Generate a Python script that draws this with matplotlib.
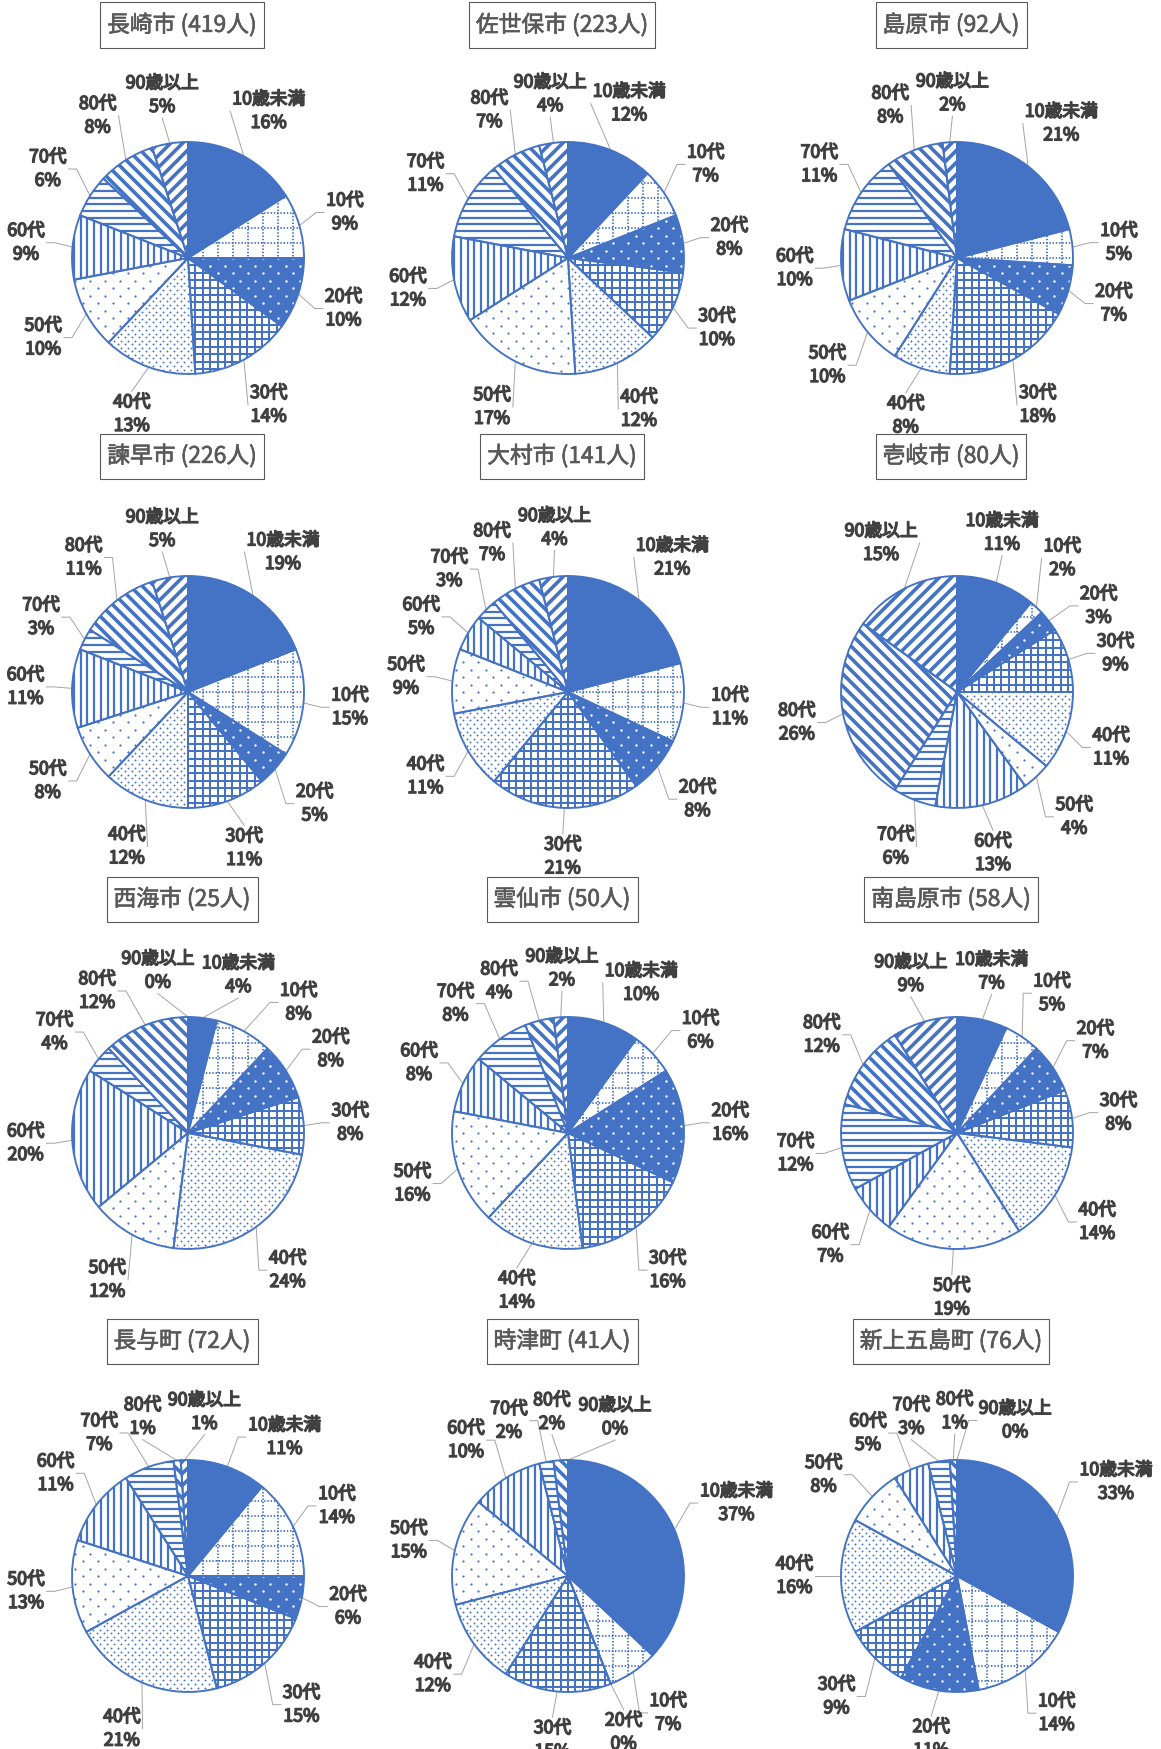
import matplotlib
matplotlib.use('Agg')
import matplotlib.pyplot as plt
import matplotlib.patheffects as pe
from matplotlib.collections import LineCollection
import numpy as np

plt.rcParams['font.family'] = ['Noto Sans CJK JP', 'DejaVu Sans']

W, H, DPI = 1161, 1749, 80

age_groups = ['10歳未満', '10代', '20代', '30代', '40代', '50代', '60代', '70代', '80代', '90歳以上']
areas = ['長崎市', '佐世保市', '島原市', '諫早市', '大村市', '壱岐市',
         '西海市', '雲仙市', '南島原市', '長与町', '時津町', '新上五島町']
people = [419, 223, 92, 226, 141, 80, 25, 50, 58, 72, 41, 76]

# percent by age group (10歳未満 ... 90歳以上)
nagasaki = [16, 9, 10, 14, 13, 10, 9, 6, 8, 5]
sasebo = [12, 7, 8, 10, 12, 17, 12, 11, 7, 4]
shimabara = [21, 5, 7, 18, 8, 10, 10, 11, 8, 2]
isahaya = [19, 15, 5, 11, 12, 8, 11, 3, 11, 5]
omura = [21, 11, 8, 21, 11, 9, 5, 3, 7, 4]
iki = [11, 2, 3, 9, 11, 4, 13, 6, 26, 15]
saikai = [4, 8, 8, 8, 24, 12, 20, 4, 12, 0]
unzen = [10, 6, 16, 16, 14, 16, 8, 8, 4, 2]
minamishimabara = [7, 5, 7, 8, 14, 19, 7, 12, 12, 9]
nagayo = [11, 14, 6, 15, 21, 13, 11, 7, 1, 1]
togitsu = [37, 7, 0, 15, 12, 15, 10, 2, 2, 0]
shinkamigoto = [33, 14, 11, 9, 16, 8, 5, 3, 1, 0]

shares = [nagasaki, sasebo, shimabara, isahaya, omura, iki,
          saikai, unzen, minamishimabara, nagayo, togitsu, shinkamigoto]

BLUE = '#4472C4'
TXT = '#404040'
GREY = '#595959'
# pattern per age group: (face, kind, params)
styles = [
    (BLUE, None, None),
    ('white', 'lines', dict(angles=[0, 90], spacing=15, lw=1.8, ls=(0, (0.8, 1.0)))),
    (BLUE, 'dots', dict(sx=15, sy=7.5, size=2.4, color='white')),
    ('white', 'lines', dict(angles=[0, 90], spacing=7.4, lw=2.0, ls='-')),
    ('white', 'dots', dict(sx=7, sy=3.6, size=1.9, color=BLUE)),
    ('white', 'dots', dict(sx=15, sy=7.5, size=2.2, color=BLUE)),
    ('white', 'lines', dict(angles=[90], spacing=6.7, lw=2.2, ls='-')),
    ('white', 'lines', dict(angles=[0], spacing=6.7, lw=2.2, ls='-')),
    ('white', 'lines', dict(angles=[-45], spacing=8.5, lw=3.6, ls='-')),
    ('white', 'lines', dict(angles=[45], spacing=8.5, lw=3.6, ls='-')),
]

col_x = [188, 568, 957]
row_y = [258, 692, 1133, 1576]
title_y = [25, 456, 899, 1341]
R = 116
L = 1.62
S = 2 * L * R
GAP = 1.24

fig = plt.figure(figsize=(W / DPI, H / DPI), dpi=DPI)
fig.patch.set_facecolor('white')
renderer = fig.canvas.get_renderer()
px2pt = 72 / DPI


def add_lines(ax, wedge, angles, spacing, lw, ls):
    d = spacing / R
    n = int(1.1 / d) + 1
    segs = []
    for a in angles:
        a = np.deg2rad(a)
        t = np.array([np.cos(a), np.sin(a)])
        nrm = np.array([-np.sin(a), np.cos(a)])
        for o in d * np.arange(-n, n + 1):
            segs.append([o * nrm - 1.1 * t, o * nrm + 1.1 * t])
    lc = LineCollection(segs, colors=BLUE, linewidths=lw * px2pt, linestyles=ls, zorder=1.5)
    ax.add_collection(lc)
    lc.set_clip_path(wedge)


def add_dots(ax, wedge, sx, sy, size, color):
    ny = int(1.05 * R / sy) + 1
    nx = int(1.05 * R / sx) + 2
    xs, ys = [], []
    for j in range(-ny, ny + 1):
        shift = sx / 2 if j % 2 else 0
        row = np.arange(-nx, nx + 1) * sx + shift
        xs.append(row)
        ys.append(np.full_like(row, j * sy))
    xs = np.concatenate(xs) / R
    ys = np.concatenate(ys) / R
    sc = ax.scatter(xs, ys, s=(size * px2pt) ** 2, c=color, linewidths=0, zorder=1.5)
    sc.set_clip_path(wedge)


def overlaps(a, b, m=5):
    return not (a[2] + m < b[0] or b[2] + m < a[0] or a[3] + m < b[1] or b[3] + m < a[1])


def wrap(a):
    return (a + 180) % 360 - 180


def center_at(phi, hw, hh):
    ux, uy = np.cos(np.deg2rad(phi)), np.sin(np.deg2rad(phi))
    dx = hw / abs(ux) if abs(ux) > 1e-6 else np.inf
    dy = hh / abs(uy) if abs(uy) > 1e-6 else np.inf
    dist = GAP * R + min(dx, dy)
    return dist * ux, dist * uy


for k, (area, n, vals) in enumerate(zip(areas, people, shares)):
    r, c = divmod(k, 3)
    cx, cy = col_x[c], row_y[r]
    ax = fig.add_axes([(cx - S / 2) / W, 1 - (cy + S / 2) / H, S / W, S / H])

    fills, _ = ax.pie(vals, startangle=90, counterclock=False, radius=1,
                      wedgeprops=dict(linewidth=0, zorder=1))
    for w, (fc, kind, prm) in zip(fills, styles):
        w.set_facecolor(fc)
        if kind == 'lines':
            add_lines(ax, w, **prm)
        elif kind == 'dots':
            add_dots(ax, w, **prm)
    ax.pie(vals, startangle=90, counterclock=False, radius=1,
           wedgeprops=dict(facecolor='none', edgecolor=BLUE, linewidth=1.7, zorder=2))
    ax.set_xlim(-L, L)
    ax.set_ylim(-L, L)
    ax.axis('off')

    # data labels
    total = sum(vals)
    acc = 0
    thetas, texts, sizes = [], [], []
    for name, v in zip(age_groups, vals):
        thetas.append(90 - 360 * (acc + v / 2) / total)
        acc += v
        t = ax.text(0, 0, f'{name}\n{v}%', ha='center', va='center', fontsize=16,
                    color=TXT, linespacing=1.4, zorder=3,
                    path_effects=[pe.withStroke(linewidth=1.3, foreground=TXT)])
        bb = t.get_window_extent(renderer)
        texts.append(t)
        sizes.append((bb.width / 2, bb.height / 2))

    # spread crowded labels around the ring
    phis = list(thetas)
    m = len(phis)
    for it in range(600):
        boxes = []
        for phi, (hw, hh) in zip(phis, sizes):
            x, y = center_at(phi, hw, hh)
            boxes.append((x - hw, y - hh, x + hw, y + hh))
        moved = False
        for i in range(m):
            for j in range(i + 1, m):
                if overlaps(boxes[i], boxes[j]):
                    d = wrap(phis[i] - phis[j])
                    s = 1 if d >= 0 else -1
                    phis[i] += 0.5 * s
                    phis[j] -= 0.5 * s
                    moved = True
        if not moved:
            break

    for th, phi, t, (hw, hh) in zip(thetas, phis, texts, sizes):
        x, y = center_at(phi, hw, hh)
        t.set_position((x / R, y / R))
        ux, uy = np.cos(np.deg2rad(th)), np.sin(np.deg2rad(th))
        p0 = np.array([R * ux, R * uy])
        if abs(np.cos(np.deg2rad(phi))) > 0.35:
            s = np.sign(x)
            end = np.array([x - s * (hw + 2), y])
            elbow = end - np.array([s * 8, 0])
            pts = [p0, elbow, end] if s * (elbow[0] - p0[0]) > 0 else [p0, end]
        else:
            end = np.array([x, y - np.sign(y) * (hh + 2)])
            pts = [p0, end]
        pts = np.array(pts)
        if np.hypot(*(pts[-1] - p0)) > 8:
            ax.plot(pts[:, 0] / R, pts[:, 1] / R, color='#A6A6A6', lw=0.9,
                    clip_on=False, zorder=0.5)

    # boxed title
    tx, ty = cx - 6, title_y[r]
    tt = fig.text(tx / W, 1 - ty / H, f'{area} ({n}人)', ha='center', va='center',
                  fontsize=20.5, color=GREY, zorder=5,
                  path_effects=[pe.withStroke(linewidth=0.6, foreground=GREY)])
    bw = tt.get_window_extent(renderer).width + 14
    bh = 45
    fig.add_artist(plt.Rectangle(((tx - bw / 2) / W, 1 - (ty + bh / 2) / H), bw / W, bh / H,
                                 transform=fig.transFigure, fc='white', ec=GREY,
                                 lw=1, zorder=4))

fig.savefig('out.png', dpi=DPI, facecolor='white')
